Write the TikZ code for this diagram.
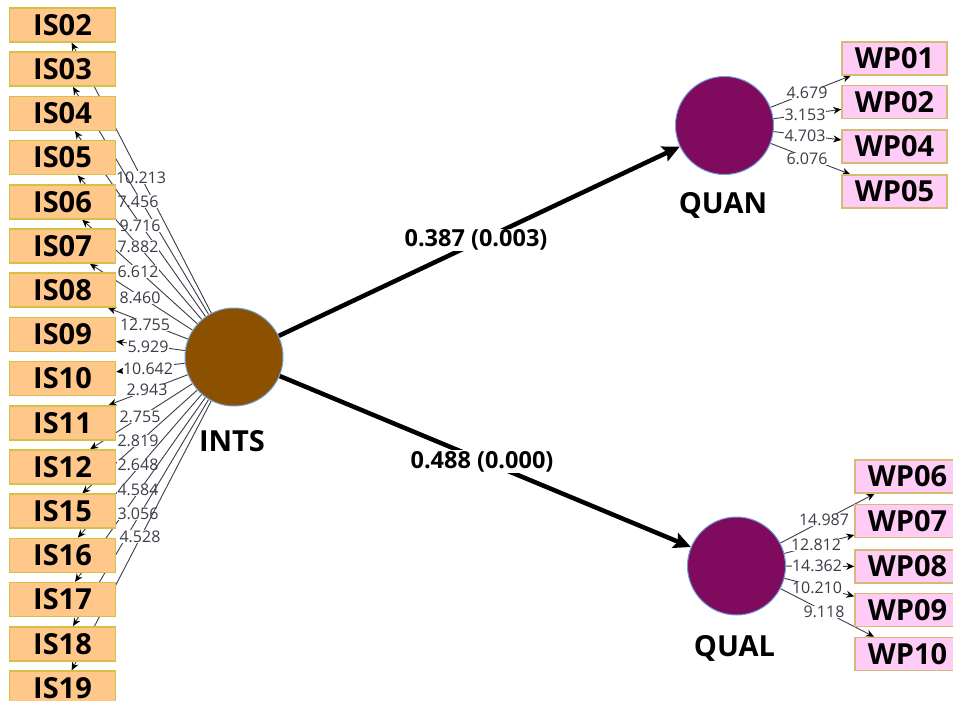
\documentclass[tikz,border=0pt]{standalone}
\usepackage{fontspec}
\setmainfont{Open Sans}
\usepackage{tikz}
\usetikzlibrary{arrows.meta,positioning,backgrounds}
\definecolor{plsorange}{RGB}{255,200,138}
\definecolor{plsgold}{RGB}{214,192,72}
\definecolor{plspink}{RGB}{255,204,245}
\definecolor{plstan}{RGB}{214,186,120}
\definecolor{plsbrown}{RGB}{139,80,0}
\definecolor{plspurple}{RGB}{128,10,94}
\definecolor{plsrim}{RGB}{110,160,215}
\definecolor{plsgrey}{RGB}{60,60,72}
\tikzstyle{isbox} = [draw=plsgold,fill=plsorange,line width=1.5pt,minimum width=106pt,minimum height=34pt,inner sep=0pt,font=\fontsize{29}{29}\selectfont\bfseries]
\tikzstyle{wpbox} = [isbox,draw=plstan,fill=plspink,minimum width=105pt,minimum height=33pt]
\tikzstyle{latent} = [circle,draw=plsrim,line width=1pt,minimum size=98pt,inner sep=0pt]
\tikzstyle{lvname} = [font=\fontsize{29}{29}\selectfont\bfseries]
\tikzstyle{loading} = [draw=plsgrey,line width=0.9pt,-{Stealth[length=8pt,width=7pt,black]}]
\tikzstyle{loadval} = [fill=white,inner sep=0.5pt,text=plsgrey,font=\fontsize{16}{16}\selectfont]
\tikzstyle{structural} = [line width=4.5pt,-{Stealth[length=17pt,width=16pt,inset=3pt]}]
\tikzstyle{coef} = [fill=white,inner sep=1pt,font=\fontsize{23.5}{23.5}\selectfont\bfseries]
\def\islist{IS02/10.213/141/177.5, IS03/7.456/138/201.5, IS04/9.716/140/225.5, IS05/7.882/138/246.5,
  IS06/6.612/138/271.5, IS07/8.460/140/298, IS08/12.755/145/325, IS09/5.929/148/347,
  IS10/10.642/148/368.5, IS11/2.943/147/390, IS12/2.755/140/416.5, IS15/2.819/138/441,
  IS16/2.648/138/465, IS17/4.584/138/490, IS18/3.056/138/513.5, IS19/4.528/140/536.5}
\def\quanlist{WP01/4.679/807/93/58.5, WP02/3.153/805/115/102, WP04/4.703/805/136/146.5, WP05/6.076/807/159/191.5}
\def\quallist{WP06/14.987/824/520/476.5, WP07/12.812/816/545/521, WP08/14.362/817/566/566.5,
  WP09/10.210/817/588/610, WP10/9.118/824/612/654}

\begin{document}
\begin{tikzpicture}[x=1pt,y=-1pt]
\useasboundingbox (0,0) rectangle (953,701);

% Latent variables
\node[latent,fill=plsbrown] (INTS) at (234,357) {};
\node[latent,fill=plspurple] (QUAN) at (724.5,125.5) {};
\node[latent,fill=plspurple] (QUAL) at (736.5,566) {};
\node[lvname] at (232,441) {INTS};
\node[lvname] at (723,205) {QUAN};
\node[lvname] at (734.5,648) {QUAL};

% Indicators
\foreach \name/\val/\lx/\ly [count=\i from 0] in \islist {
  \node[isbox] (\name) at (62.5,{25+44.2*\i}) {\name};
}
\foreach \name/\val/\lx/\ly/\by in \quanlist {
  \node[wpbox] (\name) at (894.5,\by) {\name};
}
\foreach \name/\val/\lx/\ly/\by in \quallist {
  \node[wpbox] (\name) at (907.5,\by) {\name};
}

% Connectors behind the boxes
\begin{scope}[on background layer]
\foreach \name/\val/\lx/\ly in \islist {
  \draw[loading] (INTS) -- (\name);
  \node[loadval] at (\lx,\ly) {\val};
}
\foreach \name/\val/\lx/\ly/\by in \quanlist {
  \draw[loading] (QUAN) -- (\name);
  \node[loadval] at (\lx,\ly) {\val};
}
\foreach \name/\val/\lx/\ly/\by in \quallist {
  \draw[loading] (QUAL) -- (\name);
  \node[loadval] at (\lx,\ly) {\val};
}
\draw[structural] (INTS) -- (QUAN);
\draw[structural] (INTS) -- (QUAL);
\node[coef] at (476,240) {0.387 (0.003)};
\node[coef] at (482,461.5) {0.488 (0.000)};
\end{scope}
\end{tikzpicture}
\end{document}
